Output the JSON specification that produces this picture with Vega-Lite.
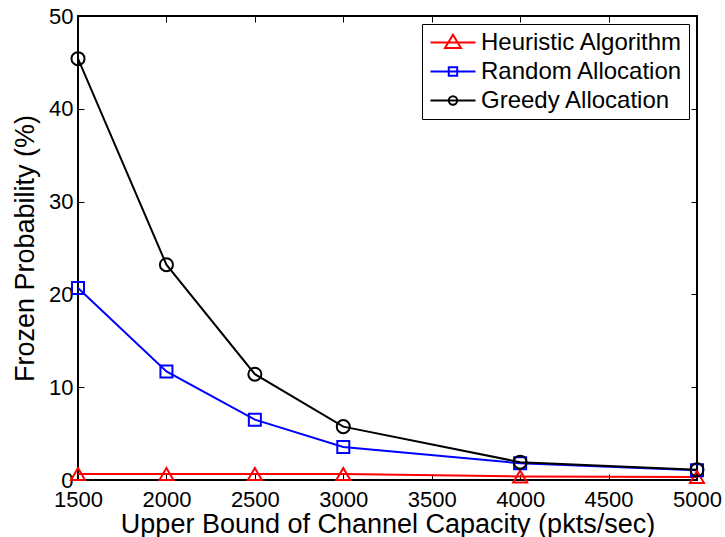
{
  "$schema": "https://vega.github.io/schema/vega-lite/v6.json",
  "width": 619,
  "height": 464,
  "autosize": {"type": "none"},
  "padding": {"left": 78, "top": 16, "right": 28, "bottom": 57},
  "background": "white",
  "data": {
    "values": [
      {"series": "Heuristic Algorithm", "cap": 1500, "prob": 0.65},
      {"series": "Heuristic Algorithm", "cap": 2000, "prob": 0.65},
      {"series": "Heuristic Algorithm", "cap": 2500, "prob": 0.65},
      {"series": "Heuristic Algorithm", "cap": 3000, "prob": 0.65},
      {"series": "Heuristic Algorithm", "cap": 4000, "prob": 0.38},
      {"series": "Heuristic Algorithm", "cap": 5000, "prob": 0.33},
      {"series": "Random Allocation", "cap": 1500, "prob": 20.7},
      {"series": "Random Allocation", "cap": 2000, "prob": 11.7},
      {"series": "Random Allocation", "cap": 2500, "prob": 6.5},
      {"series": "Random Allocation", "cap": 3000, "prob": 3.55},
      {"series": "Random Allocation", "cap": 4000, "prob": 1.8},
      {"series": "Random Allocation", "cap": 5000, "prob": 1.05},
      {"series": "Greedy Allocation", "cap": 1500, "prob": 45.4},
      {"series": "Greedy Allocation", "cap": 2000, "prob": 23.2},
      {"series": "Greedy Allocation", "cap": 2500, "prob": 11.4},
      {"series": "Greedy Allocation", "cap": 3000, "prob": 5.75},
      {"series": "Greedy Allocation", "cap": 4000, "prob": 1.92},
      {"series": "Greedy Allocation", "cap": 5000, "prob": 1.1}
    ]
  },
  "layer": [
    {
      "mark": {"type": "line", "opacity": 0},
      "encoding": {
        "x": {"field": "cap", "type": "quantitative", "scale": {"domain": [1500, 5000], "nice": false, "zero": false},
              "axis": {"orient": "top", "labels": false, "title": null, "values": [1500, 2000, 2500, 3000, 3500, 4000, 4500, 5000]}},
        "y": {"field": "prob", "type": "quantitative", "scale": {"domain": [0, 50], "nice": false},
              "axis": {"orient": "right", "labels": false, "title": null, "values": [0, 10, 20, 30, 40, 50]}},
        "detail": {"field": "series"}
      }
    },
    {
      "mark": {"type": "line", "strokeWidth": 2},
      "encoding": {
        "x": {"field": "cap", "type": "quantitative",
              "axis": {"orient": "bottom", "title": "Upper Bound of Channel Capacity (pkts/sec)", "format": "d",
                       "values": [1500, 2000, 2500, 3000, 3500, 4000, 4500, 5000], "labelPadding": 15, "titlePadding": 1}},
        "y": {"field": "prob", "type": "quantitative",
              "axis": {"orient": "left", "title": "Frozen Probability (%)", "values": [0, 10, 20, 30, 40, 50],
                       "labelPadding": 11, "titlePadding": 9}},
        "color": {"field": "series", "type": "nominal",
                  "scale": {"domain": ["Heuristic Algorithm", "Random Allocation", "Greedy Allocation"], "range": ["#ff0000", "#0000ff", "#000000"]},
                  "legend": {
                    "title": null, "orient": "top-right", "symbolType": "circle",
                    "encode": {"symbols": {"update": {
                      "fill": {"value": "transparent"},
                      "strokeWidth": {"value": 2},
                      "opacity": {"value": 1},
                      "shape": {"signal": "datum.value === 'Heuristic Algorithm' ? 'M-1.67,0L5.83,0M2.08,-1.3L3.41,0.9L0.75,0.9Z' : datum.value === 'Random Allocation' ? 'M-1.67,0L5.83,0M1.38,-0.7L2.78,-0.7L2.78,0.7L1.38,0.7Z' : 'M-1.67,0L5.83,0M2.78,0A0.7,0.7,0,1,1,1.38,0A0.7,0.7,0,1,1,2.78,0'"}
                    }}}
                  }}
      }
    },
    {
      "mark": {"type": "point", "filled": false, "strokeWidth": 2, "opacity": 1},
      "encoding": {
        "x": {"field": "cap", "type": "quantitative", "axis": null},
        "y": {"field": "prob", "type": "quantitative", "axis": null},
        "color": {"field": "series", "type": "nominal",
                  "legend": {
                    "title": null, "orient": "top-right", "symbolType": "circle",
                    "encode": {"symbols": {"update": {
                      "fill": {"value": "transparent"},
                      "strokeWidth": {"value": 2},
                      "opacity": {"value": 1},
                      "shape": {"signal": "datum.value === 'Heuristic Algorithm' ? 'M-1.67,0L5.83,0M2.08,-1.3L3.41,0.9L0.75,0.9Z' : datum.value === 'Random Allocation' ? 'M-1.67,0L5.83,0M1.38,-0.7L2.78,-0.7L2.78,0.7L1.38,0.7Z' : 'M-1.67,0L5.83,0M2.78,0A0.7,0.7,0,1,1,1.38,0A0.7,0.7,0,1,1,2.78,0'"}
                    }}}
                  }},
        "shape": {"field": "series", "type": "nominal",
                  "scale": {"domain": ["Greedy Allocation", "Heuristic Algorithm", "Random Allocation"], "range": ["circle", "triangle-up", "square"]},
                  "legend": null},
        "size": {"field": "series", "type": "nominal",
                 "scale": {"domain": ["Random Allocation", "Greedy Allocation", "Heuristic Algorithm"], "range": [144, 196, 256]},
                 "legend": null}
      }
    }
  ],
  "resolve": {"axis": {"x": "independent", "y": "independent"}},
  "config": {
    "view": {"stroke": "black", "strokeWidth": 2},
    "legend": {"offset": 8, "padding": 6.5, "strokeColor": "black", "fillColor": "white",
               "labelFontSize": 24, "labelFont": "Liberation Sans", "labelColor": "black", "labelLimit": 300,
               "symbolSize": 144, "symbolStrokeWidth": 2, "labelOffset": 28.5, "rowPadding": 5},
    "axis": {
      "labelFont": "Liberation Sans", "titleFont": "Liberation Sans",
      "labelFontSize": 22, "titleFontSize": 27, "titleFontWeight": "normal",
      "labelColor": "black", "titleColor": "black",
      "tickColor": "black", "tickSize": -6, "tickWidth": 1,
      "domain": false, "grid": false, "labelFlush": false, "labelOverlap": false
    }
  }
}
